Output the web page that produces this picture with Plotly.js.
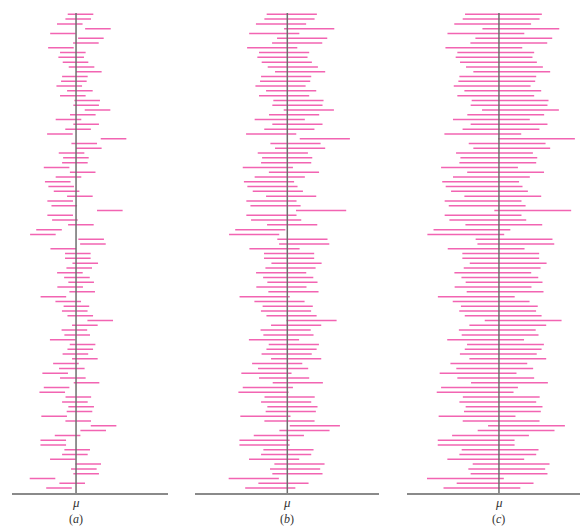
<!DOCTYPE html>
<html>
<head>
<meta charset="utf-8">
<script src="https://cdn.plot.ly/plotly-3.0.1.min.js"></script>
<style>html,body{margin:0;padding:0;background:#fff;}#chart{width:580px;height:527px;}</style>
</head>
<body>
<div id="chart"></div>
<script>
// Sample means (in units of sigma/sqrt(n)), relative to mu, one per interval (top to bottom)
const sampleMeans = [
  0.35, 0.17, -0.49, 1.71, -1.02, 1.16, 0.77, -1.18, -0.25, -0.38,
  -0.04, 0.43, 1.00, -0.09, -0.17, -0.53, 0.30, -0.25, 0.87, 0.79,
  1.68, 0.53, -0.59, 0.79, 0.16, -1.26, 2.93, 0.64, 1.00, -0.35,
  -0.01, -0.09, -1.52, 0.52, -0.59, -1.43, -1.16, -0.74, 0.30, -1.24,
  -0.92, 2.64, -1.24, -0.87, 0.38, -2.11, -2.59, 1.18, 1.32, -1.00,
  0.14, 0.14, 0.72, 0.25, -0.48, 0.07, 0.40, -0.46, 0.48, -1.77,
  -0.61, 0.03, -0.10, 0.33, 1.89, 0.69, -0.13, 0.09, -1.04, 0.51,
  0.33, -0.05, 0.69, -0.79, -0.33, -1.63, -0.25, 0.82, -1.52, -1.86,
  0.18, -0.09, 0.40, 0.27, -1.71, 0.17, 2.15, 1.34, -0.66, -1.78,
  -1.78, 0.09, -0.09, -1.03, 0.95, 0.61, 0.79, -2.62, -0.30, -1.33
];
// Half-widths of the intervals in each panel
const halfWidths = [1.0, 1.96, 3.0];
const panelLabels = ['(<i>a</i>)', '(<i>b</i>)', '(<i>c</i>)'];
const muLabel = '<i>μ</i>';

const axisNames = ['x', 'x2', 'x3'];
const domains = [[0.0212, 0.2891], [0.3362, 0.6534], [0.7022, 1.0]];
const ranges = [[-4.98, 7.16], [-7.21, 7.16], [-7.16, 6.33]];
const yBottom = 101.04, yTop = -1.99;
const serif = '"Liberation Serif", "DejaVu Serif", serif';

const traces = [];
const shapes = [];
const annotations = [];
const layout = {
  width: 580, height: 527,
  margin: {l: 0, r: 0, t: 0, b: 0},
  paper_bgcolor: '#fff', plot_bgcolor: '#fff',
  showlegend: false,
  font: {family: serif, size: 13, color: '#333'},
  yaxis: {domain: [0.0645, 1], range: [yBottom, yTop], visible: false, fixedrange: true}
};

halfWidths.forEach((hw, p) => {
  const xs = [], ys = [];
  sampleMeans.forEach((m, i) => {
    xs.push(m - hw, m + hw, null);
    ys.push(i + 1, i + 1, null);
  });
  traces.push({
    type: 'scatter', mode: 'lines', x: xs, y: ys,
    xaxis: axisNames[p], yaxis: 'y',
    line: {color: '#f264b2', width: 1.5},
    hoverinfo: 'skip'
  });
  const axKey = p === 0 ? 'xaxis' : 'xaxis' + (p + 1);
  layout[axKey] = {
    domain: domains[p], range: ranges[p], anchor: 'y',
    showgrid: false, zeroline: false,
    showline: true, linecolor: '#8a8a8a', linewidth: 1.5,
    ticks: '', showticklabels: false,
    fixedrange: true
  };
  shapes.push({
    type: 'line', xref: axisNames[p], yref: 'y',
    x0: 0, x1: 0, y0: 0.75, y1: yBottom,
    line: {color: '#6e6e6e', width: 1.5}
  });
  annotations.push({
    xref: axisNames[p], yref: 'paper', x: 0, y: (527 - 502) / 527,
    yanchor: 'middle', xanchor: 'center', showarrow: false,
    text: muLabel, borderpad: 0,
    font: {family: serif, size: 13, color: '#333'}
  });
  annotations.push({
    xref: axisNames[p], yref: 'paper', x: 0, y: (527 - 519) / 527,
    yanchor: 'middle', xanchor: 'center', showarrow: false,
    text: panelLabels[p], borderpad: 0,
    font: {family: serif, size: 12, color: '#333'}
  });
});
layout.shapes = shapes;
layout.annotations = annotations;

Plotly.newPlot('chart', traces, layout, {staticPlot: true, displayModeBar: false});
</script>
</body>
</html>
